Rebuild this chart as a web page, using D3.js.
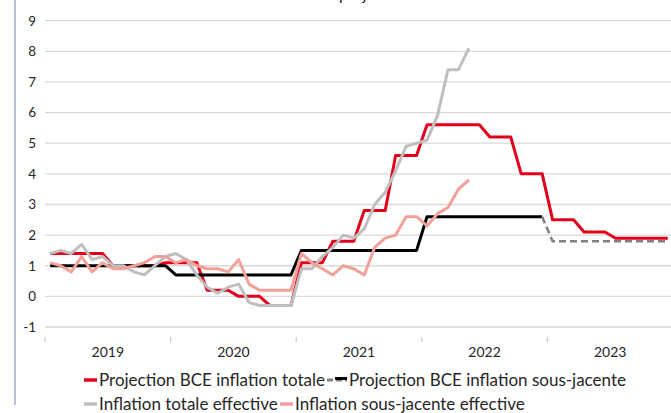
<!DOCTYPE html>
<html>
<head>
<meta charset="utf-8">
<script src="https://cdn.jsdelivr.net/npm/d3@7"></script>
<style>
  html, body { margin: 0; padding: 0; background: #fff; }
  svg { display: block; }
  text { font-family: Lato, "Open Sans", sans-serif; fill: #262626; }
</style>
</head>
<body>
<div id="chart"></div>
<script>
// ---- data ----
const years = ["2019", "2020", "2021", "2022", "2023"];
const monthsPerYear = 12;
const yTicks = [-1, 0, 1, 2, 3, 4, 5, 6, 7, 8, 9];

// Projection BCE inflation totale (monthly, Jan 2019 - Dec 2023)
const projTotale = [
  1.4, 1.4, 1.4, 1.4, 1.4, 1.4, 1.0, 1.0, 1.0, 1.0, 1.0, 1.1,
  1.1, 1.1, 1.1, 0.2, 0.2, 0.2, 0.0, 0.0, 0.0, -0.3, -0.3, -0.3,
  1.1, 1.1, 1.1, 1.8, 1.8, 1.8, 2.8, 2.8, 2.8, 4.6, 4.6, 4.6,
  5.6, 5.6, 5.6, 5.6, 5.6, 5.6, 5.2, 5.2, 5.2, 4.0, 4.0, 4.0,
  2.5, 2.5, 2.5, 2.1, 2.1, 2.1, 1.9, 1.9, 1.9, 1.9, 1.9, 1.9
];
// Projection BCE inflation sous-jacente (solid part, Jan 2019 - Dec 2022)
const projSousJacente = [
  1.0, 1.0, 1.0, 1.0, 1.0, 1.0, 1.0, 1.0, 1.0, 1.0, 1.0, 1.0,
  0.7, 0.7, 0.7, 0.7, 0.7, 0.7, 0.7, 0.7, 0.7, 0.7, 0.7, 0.7,
  1.5, 1.5, 1.5, 1.5, 1.5, 1.5, 1.5, 1.5, 1.5, 1.5, 1.5, 1.5,
  2.6, 2.6, 2.6, 2.6, 2.6, 2.6, 2.6, 2.6, 2.6, 2.6, 2.6, 2.6
];
// Projection sous-jacente, dashed continuation (Dec 2022 - Dec 2023)
const projSousJacenteFutur = [
  2.6, 1.8, 1.8, 1.8, 1.8, 1.8, 1.8, 1.8, 1.8, 1.8, 1.8, 1.8, 1.8
];
const projSousJacenteFuturStart = 47;
// Inflation totale effective (Jan 2019 - May 2022)
const inflTotale = [
  1.4, 1.5, 1.4, 1.7, 1.2, 1.3, 1.0, 1.0, 0.8, 0.7, 1.0, 1.3,
  1.4, 1.2, 0.7, 0.3, 0.1, 0.3, 0.4, -0.2, -0.3, -0.3, -0.3, -0.3,
  0.9, 0.9, 1.3, 1.6, 2.0, 1.9, 2.2, 3.0, 3.4, 4.1, 4.9, 5.0,
  5.1, 5.9, 7.4, 7.4, 8.1
];
// Inflation sous-jacente effective (Jan 2019 - May 2022)
const inflSousJacente = [
  1.1, 1.0, 0.8, 1.3, 0.8, 1.1, 0.9, 0.9, 1.0, 1.1, 1.3, 1.3,
  1.1, 1.2, 1.0, 0.9, 0.9, 0.8, 1.2, 0.4, 0.2, 0.2, 0.2, 0.2,
  1.4, 1.1, 0.9, 0.7, 1.0, 0.9, 0.7, 1.6, 1.9, 2.0, 2.6, 2.6,
  2.3, 2.7, 2.9, 3.5, 3.8
];

const seriesNames = [
  "Projection BCE inflation totale",
  "Projection BCE inflation sous-jacente",
  "Inflation totale effective",
  "Inflation sous-jacente effective"
];

// ---- layout ----
const W = 671, H = 413;
const mLeft = 45, mRight = 673, mTop = 20.7, mBottom = 327;
const nMonths = years.length * monthsPerYear;

const svg = d3.select("#chart").append("svg")
  .attr("width", W).attr("height", H);

const x = d3.scaleBand().domain(d3.range(nMonths)).range([mLeft, mRight]);
const xc = i => x(i) + x.bandwidth() / 2;
const y = d3.scaleLinear().domain([-1, 9]).range([mBottom, mTop]);

// title (mostly cut off at top, as in the reference)
svg.append("text").attr("x", 337).attr("y", 0).attr("text-anchor", "end")
  .style("font-size", "16px").text("Inflation effective et ");
svg.append("text").attr("x", 339).attr("y", 0).attr("text-anchor", "start")
  .style("font-size", "16px").text("projections");

// left border
svg.append("line").attr("x1", 15).attr("x2", 15).attr("y1", 0).attr("y2", 405)
  .attr("stroke", "#a3abc6").attr("stroke-width", 1.5);

// gridlines
svg.append("g").selectAll("line").data(yTicks).join("line")
  .attr("x1", mLeft).attr("x2", W)
  .attr("y1", d => y(d)).attr("y2", d => y(d))
  .attr("stroke", "#d9d9d9").attr("stroke-width", 1.3);

// y labels
svg.append("g").selectAll("text").data(yTicks).join("text")
  .attr("x", 36).attr("y", d => y(d)).attr("dy", "0.36em")
  .attr("text-anchor", "end").style("font-size", "13.5px")
  .text(d => d);

// x ticks (year boundaries)
const yearScale = d3.scaleBand().domain(years).range([mLeft, mRight]);
const bounds = years.map(yr => yearScale(yr));
svg.append("g").selectAll("line").data(bounds).join("line")
  .attr("x1", d => d).attr("x2", d => d).attr("y1", 337).attr("y2", 342)
  .attr("stroke", "#bfbfbf").attr("stroke-width", 1);
svg.append("g").selectAll("text").data(years).join("text")
  .attr("x", d => yearScale(d) + yearScale.bandwidth() / 2).attr("y", 352)
  .attr("dy", "0.36em").attr("text-anchor", "middle").style("font-size", "14px")
  .text(d => d);

// lines
const line = d3.line().defined(d => d.v != null).x(d => xc(d.i)).y(d => y(d.v));
const toPts = (arr, start = 0) => arr.map((v, k) => ({ i: start + k, v }));

const colors = { red: "#e2001a", black: "#000000", gray: "#bfbfbf", pink: "#f2a199", dash: "#808080" };

svg.append("path").attr("d", line(toPts(projTotale)))
  .attr("fill", "none").attr("stroke", colors.red).attr("stroke-width", 3).attr("stroke-linejoin", "round");
svg.append("path").attr("d", line(toPts(projSousJacente)))
  .attr("fill", "none").attr("stroke", colors.black).attr("stroke-width", 3).attr("stroke-linejoin", "round");
svg.append("path").attr("d", line(toPts(projSousJacenteFutur, projSousJacenteFuturStart)))
  .attr("fill", "none").attr("stroke", colors.dash).attr("stroke-width", 2.5)
  .attr("stroke-dasharray", "7,4");
svg.append("path").attr("d", line(toPts(inflTotale)))
  .attr("fill", "none").attr("stroke", colors.gray).attr("stroke-width", 3).attr("stroke-linejoin", "round");
svg.append("path").attr("d", line(toPts(inflSousJacente)))
  .attr("fill", "none").attr("stroke", colors.pink).attr("stroke-width", 3).attr("stroke-linejoin", "round");

// legend
const legend = svg.append("g").style("font-size", "17px");
function legendItem(xm, ym, name, color, dashed) {
  if (dashed) {
    legend.append("line").attr("x1", xm).attr("x2", xm + 20).attr("y1", ym).attr("y2", ym)
      .attr("stroke", colors.dash).attr("stroke-width", 3).attr("stroke-dasharray", "6,3");
    legend.append("line").attr("x1", xm + 8).attr("x2", xm + 20).attr("y1", ym - 1.5).attr("y2", ym - 1.5)
      .attr("stroke", color).attr("stroke-width", 3);
    legend.append("text").attr("x", xm + 22).attr("y", ym).attr("dy", "0.36em").text(name);
  } else {
    legend.append("line").attr("x1", xm).attr("x2", xm + 13).attr("y1", ym).attr("y2", ym)
      .attr("stroke", color).attr("stroke-width", 3.5);
    legend.append("text").attr("x", xm + 15).attr("y", ym).attr("dy", "0.36em").text(name);
  }
}
legendItem(84, 380, seriesNames[0], colors.red, false);
legendItem(327, 380, seriesNames[1], colors.black, true);
legendItem(84, 404, seriesNames[2], colors.gray, false);
legendItem(280, 404, seriesNames[3], colors.pink, false);
</script>
</body>
</html>
